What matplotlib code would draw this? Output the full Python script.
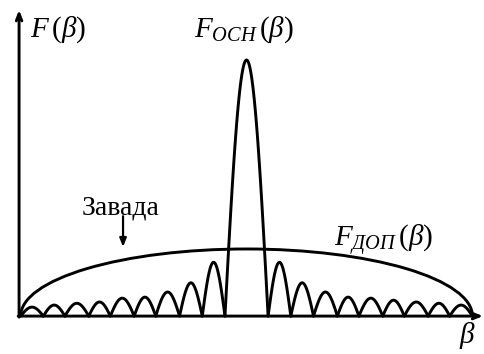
import matplotlib
matplotlib.use('Agg')

import matplotlib.pyplot as plt
import numpy as np
from matplotlib.patches import Arc

plt.rcParams['mathtext.fontset'] = 'custom'
plt.rcParams['mathtext.rm'] = 'Liberation Serif'
plt.rcParams['mathtext.it'] = 'Liberation Serif:italic'
plt.rcParams['font.family'] = 'Liberation Serif'

# nulls of the pattern (in beta units, symmetric about 0); first pair bounds the main lobe
nulls = [0.95, 1.95, 2.95, 4.0, 4.95, 6.0, 6.95, 8.0, 8.95, 9.95]
main_peak = 1.0
# side lobe peaks, going outward from the main lobe
left_peaks = [0.21, 0.13, 0.094, 0.074, 0.070, 0.055, 0.050, 0.043, 0.035]
right_peaks = [0.21, 0.13, 0.094, 0.074, 0.070, 0.062, 0.055, 0.050, 0.043]
# interference (F_ДОП) level and half-width
interf_peak = 0.262
interf_half = 9.95

LW = 2.1

fig = plt.figure(figsize=(4.84, 3.54), dpi=100)
ax = fig.add_axes([0, 0, 1, 1])
ax.set_xlim(-10.86, 10.46)
ax.set_ylim(-0.148, 1.234)
ax.axis('off')


def lobe(a, b, h):
    t = np.linspace(0, 1, 60)
    ax.plot(a + (b - a) * t, h * np.sin(np.pi * t), color='black', lw=LW,
            solid_capstyle='round', solid_joinstyle='round')


# main lobe
lobe(-nulls[0], nulls[0], main_peak)

# side lobes
for i in range(len(left_peaks)):
    lobe(-nulls[i + 1], -nulls[i], left_peaks[i])
for i in range(len(right_peaks)):
    lobe(nulls[i], nulls[i + 1], right_peaks[i])

# interference envelope
ax.add_patch(Arc((0, 0), 2 * interf_half, 2 * interf_peak, theta1=0, theta2=180,
                 color='black', lw=LW))

# axes with arrows
x0 = -10.02
ax.annotate('', xy=(x0, 1.195), xytext=(x0, -0.004),
            arrowprops=dict(arrowstyle='->,head_length=0.5,head_width=0.2',
                            lw=LW, color='black', shrinkA=0, shrinkB=0))
ax.annotate('', xy=(10.42, 0), xytext=(x0 - 0.04, 0),
            arrowprops=dict(arrowstyle='->,head_length=0.5,head_width=0.2',
                            lw=LW, color='black', shrinkA=0, shrinkB=0))

# labels
fs = 21
ax.text(-9.53, 1.09, r'$F\,(\beta)$', fontsize=fs, ha='left', va='baseline')
ax.text(-0.13, 1.09, r'$F_{ОСН}\,(\beta)$', fontsize=fs, ha='center', va='baseline')
ax.text(3.85, 0.27, r'$F_{ДОП}\,(\beta)$', fontsize=fs, ha='left', va='baseline')
ax.text(9.71, -0.105, r'$\beta$', fontsize=21, ha='center', va='baseline')
ax.text(-7.25, 0.395, 'Завада', fontsize=20, ha='left', va='baseline')
ax.annotate('', xy=(-5.44, 0.27), xytext=(-5.44, 0.39),
            arrowprops=dict(arrowstyle='-|>,head_length=0.5,head_width=0.2',
                            lw=1.6, color='black', shrinkA=0, shrinkB=0))

fig.savefig('out.png', dpi=100)
